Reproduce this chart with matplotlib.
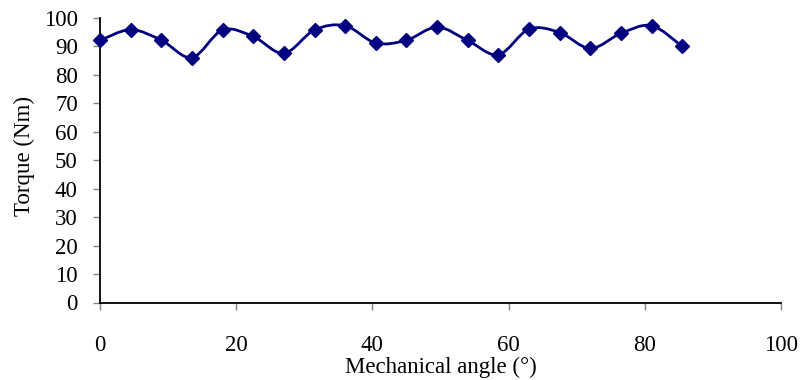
import matplotlib
matplotlib.use("Agg")
import matplotlib.pyplot as plt
from matplotlib.path import Path
from matplotlib.patches import PathPatch
import numpy as np

# Data
angle = [0, 4.5, 9, 13.5, 18, 22.5, 27, 31.5, 36, 40.5,
         45, 49.5, 54, 58.5, 63, 67.5, 72, 76.5, 81, 85.5]
torque = [92.1, 95.9, 92.2, 86.1, 95.8, 93.5, 87.6, 95.8, 97.3, 91.2,
          92.2, 96.8, 92.1, 87.1, 96.1, 94.9, 89.3, 94.6, 97.3, 90.0]
x_ticks = [0, 20, 40, 60, 80, 100]
y_ticks = [0, 10, 20, 30, 40, 50, 60, 70, 80, 90, 100]

plt.rcParams['font.family'] = ['Liberation Serif', 'DejaVu Serif']
color = '#000080'
fs = 16.5

fig = plt.figure(figsize=(8.04, 3.8), dpi=100)
ax = fig.add_axes([100/804, 1-302.5/380, 681/804, 284.5/380])

# Smooth (Excel-style) Bezier curve through the points
pts = np.column_stack([angle, torque])
n = len(pts)
verts = [tuple(pts[0])]
codes = [Path.MOVETO]
for i in range(n - 1):
    p0 = pts[i - 1] if i > 0 else pts[i]
    p1 = pts[i]
    p2 = pts[i + 1]
    p3 = pts[i + 2] if i + 2 < n else pts[i + 1]
    c1 = p1 + (p2 - p0) / 6.0
    c2 = p2 - (p3 - p1) / 6.0
    verts += [tuple(c1), tuple(c2), tuple(p2)]
    codes += [Path.CURVE4] * 3
patch = PathPatch(Path(verts, codes), facecolor='none', edgecolor=color, lw=2.0, zorder=2)
ax.add_patch(patch)
ax.plot(angle, torque, linestyle='none', marker='D', markersize=7.5,
        color=color, zorder=3, clip_on=False)

ax.set_xlim(0, 100)
ax.set_ylim(0, 100)
ax.set_xticks(x_ticks)
ax.set_yticks(y_ticks)
ax.spines['top'].set_visible(False)
ax.spines['right'].set_visible(False)
for s in ('left', 'bottom'):
    ax.spines[s].set_linewidth(1.3)
    ax.spines[s].set_color('black')
ax.tick_params(axis='x', direction='out', length=5, width=1, color='#808080',
               labelsize=fs, pad=18.5)
ax.tick_params(axis='y', direction='out', length=5, width=1, color='#808080',
               labelsize=fs, pad=11)
ax.set_xlabel('Mechanical angle (°)', fontsize=fs, labelpad=0.5)
ax.set_ylabel('Torque (Nm)', fontsize=fs, labelpad=6.5, y=0.514)

fig.savefig('out.png', dpi=100)
